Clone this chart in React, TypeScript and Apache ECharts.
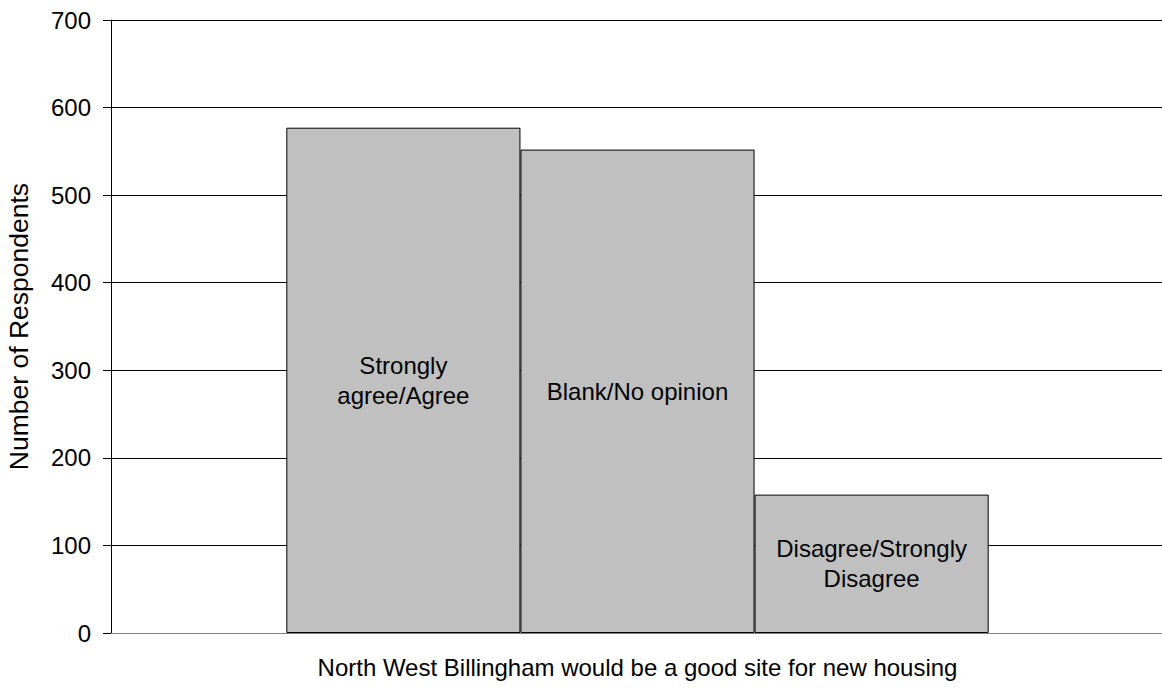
import React, { useEffect, useRef } from "react";
import * as echarts from "echarts";

const categories = ["North West Billingham would be a good site for new housing"];
const seriesNames = ["Strongly agree/Agree", "Blank/No opinion", "Disagree/Strongly Disagree"];
const barLabels = ["Strongly\nagree/Agree", "Blank/No opinion", "Disagree/Strongly\nDisagree"];
const seriesValues = [577, 552, 158];
const yTicks = { min: 0, max: 700, interval: 100 };

const FONT = "'Liberation Sans', Arial, sans-serif";

export default function App() {
  const ref = useRef<HTMLDivElement>(null);
  useEffect(() => {
    if (!ref.current) return;
    const chart = echarts.init(ref.current, null, { renderer: "svg" });
    chart.setOption({
      animation: false,
      backgroundColor: "#ffffff",
      textStyle: { fontFamily: FONT },
      grid: {
        left: 111,
        right: -2,
        top: 20,
        bottom: 57,
        containLabel: false,
        outerBoundsMode: "none",
      },
      xAxis: {
        type: "category",
        data: categories,
        name: categories[0],
        nameLocation: "middle",
        nameGap: 22,
        nameTextStyle: { fontSize: 24, color: "#000", fontFamily: FONT },
        axisLine: { show: true, lineStyle: { color: "#808080", width: 1 } },
        axisTick: { show: false },
        axisLabel: { show: false },
      },
      yAxis: {
        type: "value",
        min: yTicks.min,
        max: yTicks.max,
        interval: yTicks.interval,
        name: "Number of Respondents",
        nameLocation: "middle",
        nameGap: 79,
        nameRotate: 90,
        nameTextStyle: { fontSize: 26.5, color: "#000", fontFamily: FONT },
        axisLine: { show: true, lineStyle: { color: "#000", width: 1 } },
        axisTick: { show: true, length: 8, lineStyle: { color: "#000", width: 1 } },
        axisLabel: { fontSize: 24, color: "#000", margin: 20, fontFamily: FONT },
        splitLine: { show: true, lineStyle: { color: "#000", width: 1 } },
      },
      series: seriesNames.map((name, i) => ({
        type: "bar",
        name,
        data: [seriesValues[i]],
        barGap: "0%",
        barCategoryGap: "33.3%",
        itemStyle: { color: "#c0c0c0", borderColor: "#000", borderWidth: 1 },
        label: {
          show: true,
          position: "inside",
          formatter: () => barLabels[i],
          color: "#000",
          fontSize: 24,
          lineHeight: 30,
          fontFamily: FONT,
        },
      })),
    });
    return () => chart.dispose();
  }, []);
  return (
    <div
      ref={ref}
      style={{ position: "absolute", left: 0, top: 0, width: 1162, height: 690 }}
    />
  );
}
